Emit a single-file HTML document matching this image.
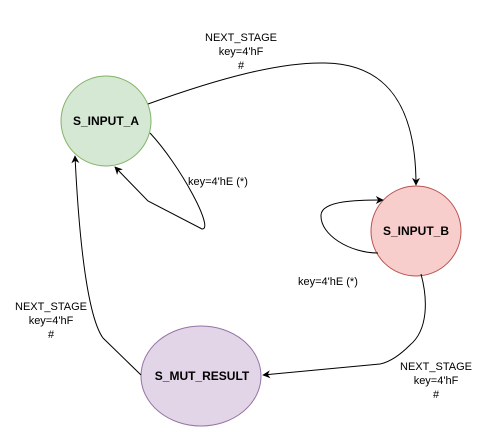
<!DOCTYPE html>
<html><head><style>
html,body{margin:0;padding:0;background:#fff;}
svg{display:block;}
text{font-family:"Liberation Sans",Arial,sans-serif;font-size:11px;fill:#000;}
.b{font-weight:bold;font-size:12px;}
</style></head><body>
<svg width="489" height="433" viewBox="0 0 489 433" xmlns="http://www.w3.org/2000/svg">
<defs>
<marker id="ar" viewBox="0 0 10 10" refX="9" refY="5" markerWidth="8" markerHeight="8" orient="auto-start-reverse" markerUnits="userSpaceOnUse">
<path d="M0,0 L10,5 L0,10 L3,5 Z" fill="#000"/>
</marker>
</defs>
<ellipse cx="106" cy="121" rx="45" ry="45" fill="#d5e8d4" stroke="#82b366"/>
<ellipse cx="416" cy="231" rx="45" ry="45" fill="#f8cecc" stroke="#b85450"/>
<ellipse cx="201" cy="376" rx="60" ry="50" fill="#e1d5e7" stroke="#9673a6"/>
<g fill="none" stroke="#000" stroke-width="1">
<path d="M148,104 C220,78 280,62 325,63 C390,64 416,110 416,185" marker-end="url(#ar)"/>
<path d="M150,133 C180,165 215,230 202,229 L148,201 L115,167" marker-end="url(#ar)"/>
<path d="M378,253 C350,253 320,235 321,215 C322,200 360,200 383,200" marker-end="url(#ar)"/>
<path d="M421,274 C428,300 428,330 410,345 C400,355 390,362 380,364 L263,375" marker-end="url(#ar)"/>
<path d="M141,375 L103,338 C90,320 80,260 75,156" marker-end="url(#ar)"/>
</g>
<text class="b" x="106" y="125" text-anchor="middle">S_INPUT_A</text>
<text class="b" x="416" y="235" text-anchor="middle">S_INPUT_B</text>
<text class="b" x="202" y="380" text-anchor="middle">S_MUT_RESULT</text>
<text x="241" y="41" text-anchor="middle">NEXT_STAGE</text>
<text x="241" y="55" text-anchor="middle">key=4'hF</text>
<text x="241" y="69" text-anchor="middle">#</text>
<text x="188" y="185">key=4'hE (*)</text>
<text x="298" y="285">key=4'hE (*)</text>
<text x="51" y="310" text-anchor="middle">NEXT_STAGE</text>
<text x="51" y="324" text-anchor="middle">key=4'hF</text>
<text x="51" y="338" text-anchor="middle">#</text>
<text x="436" y="370" text-anchor="middle">NEXT_STAGE</text>
<text x="436" y="384" text-anchor="middle">key=4'hF</text>
<text x="436" y="398" text-anchor="middle">#</text>
</svg>
</body></html>
